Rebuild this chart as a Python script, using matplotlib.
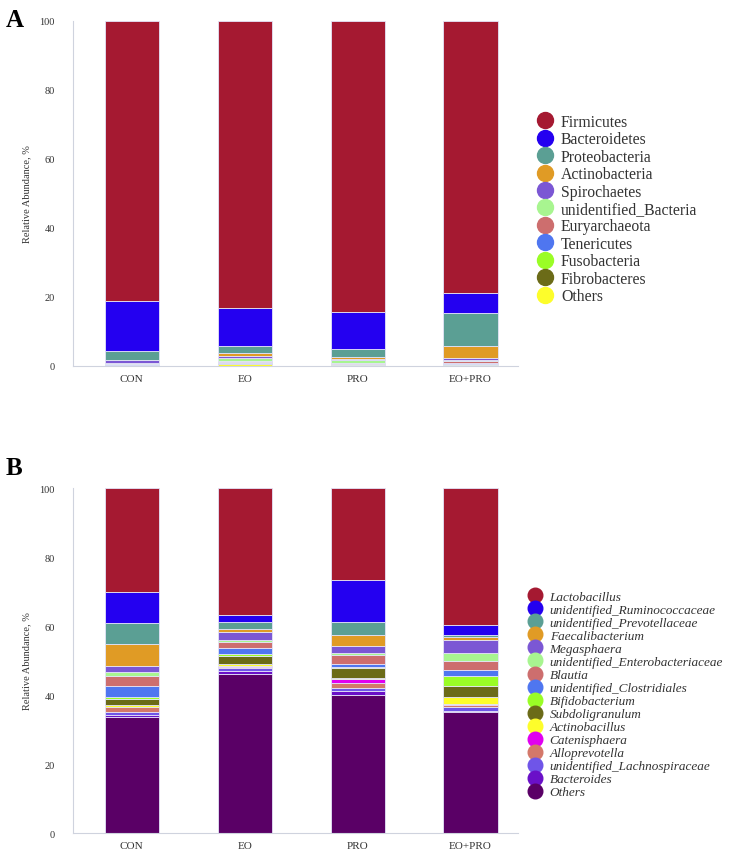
import matplotlib
matplotlib.use('Agg')
from matplotlib import pyplot as plt
from matplotlib.lines import Line2D
import numpy as np

plt.rcParams['font.family'] = ['Liberation Serif', 'DejaVu Serif']

groups = ['CON', 'EO', 'PRO', 'EO+PRO']

# panel A, phylum level (legend order = top to bottom of the stack)
phyla = ['Firmicutes', 'Bacteroidetes', 'Proteobacteria', 'Actinobacteria', 'Spirochaetes',
         'unidentified_Bacteria', 'Euryarchaeota', 'Tenericutes', 'Fusobacteria',
         'Fibrobacteres', 'Others']
phyla_colors = ['#a51931', '#2400f0', '#5b9f94', '#e09b25', '#7b57d4', '#a8f590',
                '#cd6e6e', '#4f76f0', '#9afd26', '#6b6b18', '#fdfd2b']
firmicutes = [81.2, 83.1, 84.4, 78.9]
bacteroidetes = [14.4, 11.0, 10.7, 5.8]
proteobacteria = [2.7, 2.2, 2.4, 9.6]
actinobacteria = [0.1, 0.7, 0.5, 3.4]
spirochaetes = [0.6, 0.6, 0.3, 0.5]
unid_bacteria = [0.3, 1.0, 0.9, 0.3]
euryarchaeota = [0.2, 0.3, 0.2, 0.6]
tenericutes = [0.2, 0.2, 0.1, 0.4]
fusobacteria = [0.05, 0.1, 0.1, 0.1]
fibrobacteres = [0.05, 0.1, 0.1, 0.1]
others_a = [0.2, 0.7, 0.3, 0.3]
phyla_values = [firmicutes, bacteroidetes, proteobacteria, actinobacteria, spirochaetes,
                unid_bacteria, euryarchaeota, tenericutes, fusobacteria, fibrobacteres, others_a]

# panel B, genus level
genera = ['Lactobacillus', 'unidentified_Ruminococcaceae', 'unidentified_Prevotellaceae',
          'Faecalibacterium', 'Megasphaera', 'unidentified_Enterobacteriaceae', 'Blautia',
          'unidentified_Clostridiales', 'Bifidobacterium', 'Subdoligranulum', 'Actinobacillus',
          'Catenisphaera', 'Alloprevotella', 'unidentified_Lachnospiraceae', 'Bacteroides', 'Others']
genera_colors = ['#a51931', '#2400f0', '#5b9f94', '#e09b25', '#7b57d4', '#a8f590',
                 '#cd6e6e', '#4f76f0', '#9afd26', '#6b6b18', '#fdfd2b', '#e000f0',
                 '#d4786a', '#6f55e8', '#6a10c8', '#5a0066']
lactobacillus = [30.2, 36.9, 26.6, 39.6]
ruminococcaceae = [9.0, 2.0, 12.3, 3.0]
prevotellaceae = [6.0, 1.9, 3.7, 0.7]
faecalibacterium = [6.3, 1.0, 3.3, 0.9]
megasphaera = [1.7, 2.4, 1.9, 3.5]
enterobacteriaceae = [1.2, 0.5, 0.7, 2.5]
blautia = [3.0, 1.7, 2.5, 2.6]
clostridiales = [3.3, 1.8, 0.9, 1.6]
bifidobacterium = [0.4, 0.4, 0.3, 3.0]
subdoligranulum = [1.7, 2.4, 2.9, 3.1]
actinobacillus = [0.6, 0.5, 0.2, 2.1]
catenisphaera = [0.2, 0.4, 1.3, 0.3]
alloprevotella = [1.4, 0.3, 1.4, 0.5]
lachnospiraceae = [0.8, 0.9, 0.8, 1.3]
bacteroides = [0.6, 0.8, 1.2, 0.3]
others_b = [33.6, 46.1, 40.0, 35.0]
genera_values = [lactobacillus, ruminococcaceae, prevotellaceae, faecalibacterium, megasphaera,
                 enterobacteriaceae, blautia, clostridiales, bifidobacterium, subdoligranulum,
                 actinobacillus, catenisphaera, alloprevotella, lachnospiraceae, bacteroides, others_b]


def stackedBars(ax, names, colors, values):
    x = np.arange(len(groups))
    bottom = np.zeros(len(groups))
    # stack from the last legend entry upwards
    for name, color, vals in reversed(list(zip(names, colors, values))):
        ax.bar(x, vals, bottom=bottom, width=0.48, color=color,
               edgecolor='#e4e4f8', linewidth=0.6, label=name)
        bottom += np.array(vals)
    ax.set_xlim(-0.52, 3.42)
    ax.set_ylim(0, 100)
    ax.set_yticks([0, 20, 40, 60, 80, 100])
    ax.set_xticks(x)
    ax.set_xticklabels(groups, fontsize=8, color='#333333')
    ax.tick_params(axis='y', labelsize=7.5, colors='#333333', length=0, pad=13)
    ax.tick_params(axis='x', length=0, pad=6)
    for s in ['top', 'right']:
        ax.spines[s].set_visible(False)
    for s in ['left', 'bottom']:
        ax.spines[s].set_color('#cfd3de')
        ax.spines[s].set_linewidth(0.8)
    ax.set_ylabel('Relative Abundance, %', fontsize=7.5, color='#333333', labelpad=6)


def addLegend(fig, names, colors, anchor, fontsize, italic, spacing, msize, textpad):
    handles = [Line2D([], [], linestyle='none', marker='o', markersize=msize,
                      markerfacecolor=c, markeredgecolor=c) for c in colors]
    fig.legend(handles, names, loc='upper left', bbox_to_anchor=anchor, frameon=False,
               prop={'size': fontsize, 'style': 'italic' if italic else 'normal'},
               labelspacing=spacing, handletextpad=textpad, handlelength=1.0,
               labelcolor='#333333')


fig = plt.figure(figsize=(7.38, 8.54), dpi=100)
axA = fig.add_axes([0.0989, 0.5703, 0.603, 0.404])
axB = fig.add_axes([0.0989, 0.0234, 0.603, 0.404])

stackedBars(axA, phyla, phyla_colors, phyla_values)
stackedBars(axB, genera, genera_colors, genera_values)

addLegend(fig, phyla, phyla_colors, (0.709, 0.882), 11.3, False, 0.09, 11.5, 0.5)
addLegend(fig, genera, genera_colors, (0.700, 0.321), 9.5, True, 0.06, 10.5, 0.6)

fig.text(0.008, 0.99, 'A', fontsize=18, fontweight='bold', va='top')
fig.text(0.008, 0.465, 'B', fontsize=18, fontweight='bold', va='top')

fig.savefig('out.png', dpi=100)
